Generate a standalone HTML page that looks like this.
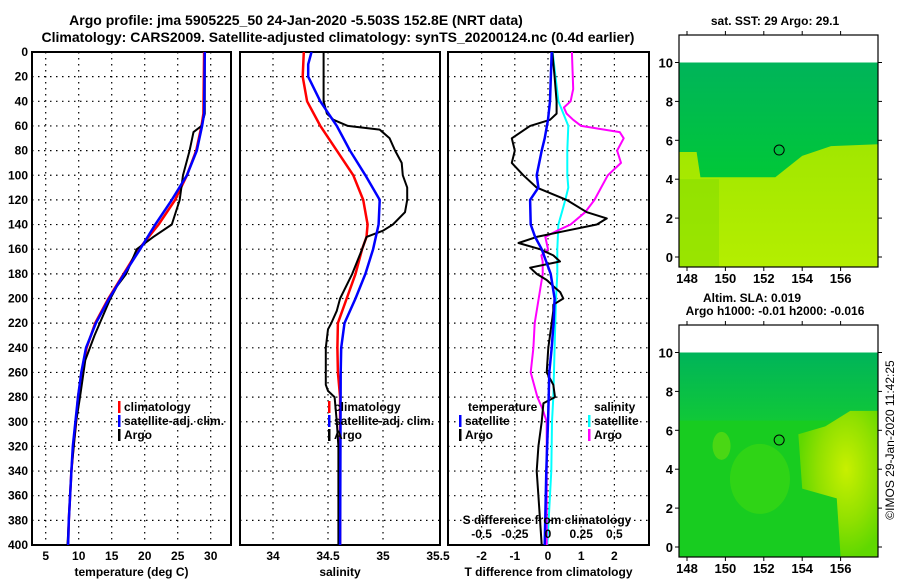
<!DOCTYPE html>
<html><head><meta charset="utf-8"><style>
html,body{margin:0;padding:0;background:#fff;}
svg{display:block;font-family:"Liberation Sans",sans-serif;font-weight:bold;}
</style></head><body>
<svg id="chart" width="900" height="580" viewBox="0 0 900 580">
<defs>
<clipPath id="c1"><rect x="32" y="52" width="199" height="493"/></clipPath>
<clipPath id="c2"><rect x="240" y="52" width="200" height="493"/></clipPath>
<clipPath id="c3"><rect x="448" y="52" width="201" height="493"/></clipPath>
<linearGradient id="g1top" x1="0" y1="0" x2="0" y2="1"><stop offset="0" stop-color="#00b45a"/><stop offset="1" stop-color="#00c838"/></linearGradient>
<linearGradient id="g1bot" x1="0" y1="0" x2="0" y2="1"><stop offset="0" stop-color="#50d410"/><stop offset="0.35" stop-color="#a0e600"/><stop offset="1" stop-color="#b4ee00"/></linearGradient>
<linearGradient id="g2top" x1="0" y1="0" x2="0" y2="1"><stop offset="0" stop-color="#00b45a"/><stop offset="1" stop-color="#10c838"/></linearGradient>
<radialGradient id="g2blob" cx="0.6" cy="0.4" r="0.6"><stop offset="0" stop-color="#c8f000"/><stop offset="0.6" stop-color="#90e000"/><stop offset="1" stop-color="#60d800"/></radialGradient>
</defs>
<text x="296" y="25" font-size="14" text-anchor="middle">Argo profile: jma 5905225_50 24-Jan-2020 -5.503S 152.8E (NRT data)</text>
<text x="338" y="42" font-size="14" text-anchor="middle">Climatology: CARS2009. Satellite-adjusted climatology: synTS_20200124.nc (0.4d earlier)</text>
<g id="p1"></g>
<g id="p2"></g>
<g id="p3"></g>
<g id="m1"></g>
<g id="m2"></g>
<text transform="translate(894,440) rotate(-90)" font-size="12" font-weight="normal" text-anchor="middle">©IMOS 29-Jan-2020 11:42:25</text>
</svg>
<script>
// ---- data ----
const depthTicks=[0,20,40,60,80,100,120,140,160,180,200,220,240,260,280,300,320,340,360,380,400];
const tempTicks=[5,10,15,20,25,30];
const salTicks=[34,34.5,35,35.5];
const dTTicks=[-2,-1,0,1,2];
const dSTicks=[-0.5,-0.25,0,0.25,0.5];
const dSTickLabels=["-0.5","-0.25","0","0.25","0.5"];

const tClimDepth=[0,50,60,80,100,120,140,160,180,200,220,240,260,280,300,320,340,360,380,400];
const tClim=[29.0,28.9,28.6,27.8,26.4,24.6,22.1,19.1,16.8,14.5,12.5,11.2,10.5,9.9,9.6,9.2,8.9,8.7,8.5,8.4];
const tSat=[29.1,29.0,28.7,27.9,26.4,24.1,21.6,19.3,16.9,14.6,12.6,11.1,10.4,9.9,9.5,9.1,8.9,8.7,8.5,8.4];
const tArgoDepth=[0,50,60,65,80,100,120,140,150,160,180,190,200,220,230,250,280,300,340,400];
const tArgo=[29.1,29.1,28.6,27.4,26.8,25.8,25.3,24.1,21.3,18.8,17.2,15.8,14.8,13.2,12.4,11.0,10.2,9.6,8.9,8.3];

const sClimDepth=[0,20,40,60,80,100,120,140,150,160,180,200,220,240,260,280,400];
const sClim=[34.28,34.27,34.31,34.43,34.58,34.73,34.82,34.86,34.85,34.81,34.75,34.67,34.59,34.585,34.59,34.61,34.61];
const sSatDepth=[0,10,20,40,60,80,100,120,140,160,180,200,220,240,260,400];
const sSat=[34.35,34.32,34.32,34.43,34.58,34.70,34.84,34.97,34.96,34.91,34.84,34.75,34.65,34.62,34.615,34.61];
const sArgoDepth=[0,40,50,55,60,63,70,80,90,100,110,120,130,140,145,150,160,180,200,210,220,225,240,270,275,280,300,320,400];
const sArgo=[34.46,34.46,34.49,34.55,34.68,34.97,35.06,35.11,35.17,35.18,35.22,35.22,35.20,35.09,35.0,34.85,34.81,34.72,34.61,34.58,34.53,34.50,34.48,34.48,34.50,34.56,34.58,34.595,34.595];

const dTSatDepth=[0,40,55,70,80,100,110,120,140,150,160,180,200,220,240,260,280,300,340,400];
const dTSat=[0.11,0.06,0.0,-0.1,-0.19,-0.34,-0.29,-0.54,-0.52,-0.39,-0.19,0.08,0.2,0.17,0.11,0.04,0.02,0.0,-0.05,-0.1];
const dTArgoDepth=[0,20,40,50,55,60,70,80,90,100,110,120,130,135,140,145,150,155,160,165,170,175,180,185,190,195,200,205,210,220,240,260,270,280,285,300,320,340,360,400];
const dTArgo=[0.13,0.2,0.26,0.26,0.06,-0.54,-1.09,-1.0,-1.09,-0.74,-0.34,0.56,1.17,1.77,1.47,0.56,-0.34,-0.89,-0.24,0.16,0.36,-0.54,-0.34,-0.04,0.16,0.37,0.46,0.16,0.16,0.11,0.01,-0.04,0.16,0.21,-0.14,-0.19,-0.29,-0.34,-0.29,-0.19];
const dSSatDepth=[0,40,60,80,100,110,120,130,140,160,180,200,240,280,300,340,400];
const dSSat=[0.035,0.078,0.153,0.145,0.145,0.153,0.13,0.105,0.078,0.07,0.07,0.06,0.05,0.04,0.03,0.025,-0.005];
const dSArgoDepth=[0,30,40,45,50,55,60,65,70,80,90,100,110,120,130,140,145,150,160,165,170,180,200,220,240,260,280,290,300,400];
const dSArgo=[0.18,0.19,0.17,0.12,0.14,0.19,0.25,0.54,0.57,0.52,0.55,0.45,0.40,0.35,0.28,0.17,0.07,-0.02,0.0,-0.05,-0.04,-0.04,-0.07,-0.1,-0.11,-0.13,-0.08,-0.04,-0.01,-0.01];

const latTicks=[0,2,4,6,8,10];
const lonTicks=[148,150,152,154,156];
const argoLon=152.8, argoLat=5.5;

// ---- scales ----
const yD=d=>52+d*1.2325;
const xT=t=>45.7+(t-5)*6.6;
const xS=s=>273+(s-34)*110;
const xDT=v=>548+v*33.2;
const xDS=v=>548+v*132.8;
const NS='http://www.w3.org/2000/svg';
function mk(parent,tag,attrs,txt){const e=document.createElementNS(NS,tag);for(const k in attrs)e.setAttribute(k,attrs[k]);if(txt!==undefined)e.textContent=txt;parent.appendChild(e);return e;}

function panel(g,x0,x1,xticks,xfn,xlabels,clip,title){
  for(const d of depthTicks){
    const ln=mk(g,'line',{x1:x0,x2:x1,y1:yD(d),y2:yD(d),stroke:'#000','stroke-width':1.2,'stroke-dasharray':'1.5 4.5'});
    
    
  }
  xticks.forEach((t,i)=>{
    const x=xfn(t);
    if(x>x0+2&&x<x1-2){const ln=mk(g,'line',{x1:x,x2:x,y1:52,y2:545,stroke:'#000','stroke-width':1.2,'stroke-dasharray':'1.5 4.5'});
    
    }
    if(xlabels){const tx=mk(g,'text',{x:x,y:560,'font-size':12,'text-anchor':'middle'},xlabels[i]);
    
    }
  });
  const r=mk(g,'rect',{x:x0,y:52,width:x1-x0,height:493,fill:'none',stroke:'#000','stroke-width':2});
  
  
  const tt=mk(g,'text',{x:(x0+x1)/2,y:576,'font-size':12,'text-anchor':'middle'},title);
  
  
}
function series(g,ds,vs,xfn,color,w,name,clip){
  const pts=ds.map((d,i)=>xfn(vs[i]).toFixed(1)+','+yD(d).toFixed(1)).join(' ');
  const p=mk(g,'polyline',{points:pts,fill:'none',stroke:color,'stroke-width':w,'clip-path':'url(#'+clip+')','stroke-linejoin':'round'});
  
  
}
function legendItem(g,x,y,color,label,name){
  const m=mk(g,'rect',{x:x,y:y-10,width:2.5,height:12,fill:color});
  
  
  const t=mk(g,'text',{x:x+6,y:y,'font-size':12},label);
  
  
}

// panel 1
const p1=document.getElementById('p1');
panel(p1,32,231,tempTicks,xT,tempTicks.map(String),'c1','temperature (deg C)');
for(const d of depthTicks){const t=mk(p1,'text',{x:28,y:yD(d)+4,'font-size':12,'text-anchor':'end'},String(d));

}
series(p1,tClimDepth,tClim,xT,'#f00',2.5,'temp-climatology-line','c1');
series(p1,tArgoDepth,tArgo,xT,'#000',2,'temp-argo-line','c1');
series(p1,tClimDepth,tSat,xT,'#00f',2.5,'temp-satellite-line','c1');
legendItem(p1,118,111+300,'#f00','climatology','legend-climatology');
legendItem(p1,118,425,'#00f','satellite-adj. clim.','legend-satellite-adj');
legendItem(p1,118,439,'#000','Argo','legend-argo');

// panel 2
const p2=document.getElementById('p2');
panel(p2,240,440,salTicks,xS,["34","34.5","35","35.5"],'c2','salinity');
series(p2,sClimDepth,sClim,xS,'#f00',2.5,'sal-climatology-line','c2');
series(p2,sArgoDepth,sArgo,xS,'#000',2,'sal-argo-line','c2');
series(p2,sSatDepth,sSat,xS,'#00f',2.5,'sal-satellite-line','c2');
legendItem(p2,328,411,'#f00','climatology','legend-climatology-2');
legendItem(p2,328,425,'#00f','satellite-adj. clim.','legend-satellite-adj-2');
legendItem(p2,328,439,'#000','Argo','legend-argo-2');

// panel 3
const p3=document.getElementById('p3');
panel(p3,448,649,dTTicks,xDT,dTTicks.map(String),'c3','T difference from climatology');
series(p3,dSSatDepth,dSSat,xDS,'#00ffff',2,'sal-diff-satellite-line','c3');
series(p3,dSArgoDepth,dSArgo,xDS,'#ff00ff',2,'sal-diff-argo-line','c3');
series(p3,dTArgoDepth,dTArgo,xDT,'#000',2,'temp-diff-argo-line','c3');
series(p3,dTSatDepth,dTSat,xDT,'#00f',2.5,'temp-diff-satellite-line','c3');
dSTicks.forEach((v,i)=>{const t=mk(p3,'text',{x:xDS(v),y:538,'font-size':12,'text-anchor':'middle'},dSTickLabels[i]);

});
{const t=mk(p3,'text',{x:547,y:524,'font-size':12,'text-anchor':'middle'},'S difference from climatology');

}
{const t=mk(p3,'text',{x:468,y:411,'font-size':12},'temperature');


const t2=mk(p3,'text',{x:594,y:411,'font-size':12},'salinity');

}
legendItem(p3,459,425,'#00f','satellite','legend-temp-satellite');
legendItem(p3,459,439,'#000','Argo','legend-temp-argo');
legendItem(p3,588,425,'#00ffff','satellite','legend-sal-satellite');
legendItem(p3,588,439,'#ff00ff','Argo','legend-sal-argo');

// maps
function mapFrame(g,top,kind){
  const base=top+27.5; // y of lat 10
  const lx=lon=>687+(lon-148)*19.2;
  const ly=lat=>base+(10-lat)*19.45;
  const mx0=679,mx1=878,bot=top+232;
  if(kind===1){
    const a=mk(g,'rect',{x:mx0,y:ly(10),width:mx1-mx0,height:bot-ly(10),fill:'url(#g1bot)'});
    
    const pts=[[mx0,ly(10)],[mx1,ly(10)],[mx1,ly(5.8)],[lx(155.5),ly(5.7)],[lx(154),ly(5.2)],[lx(152.6),ly(4.1)],[lx(148.7),ly(4.1)],[lx(148.5),ly(5.4)],[mx0,ly(5.4)]];
    const b=mk(g,'polygon',{points:pts.map(p=>p.join(',')).join(' '),fill:'url(#g1top)'});
    
    const c=mk(g,'rect',{x:mx0,y:ly(4),width:40,height:bot-ly(4),fill:'#80dc00',opacity:0.5});
    
  } else {
    const a=mk(g,'rect',{x:mx0,y:ly(10),width:mx1-mx0,height:bot-ly(10),fill:'#18cc20'});
    
    const b=mk(g,'rect',{x:mx0,y:ly(10),width:mx1-mx0,height:ly(6.5)-ly(10),fill:'url(#g2top)'});
    
    const pts=[[lx(155.2),ly(6.2)],[lx(156.5),ly(7)],[mx1,ly(7)],[mx1,bot],[lx(156),bot],[lx(155.8),ly(2.5)],[lx(154),ly(3)],[lx(153.8),ly(5.8)]];
    const c=mk(g,'polygon',{points:pts.map(p=>p.join(',')).join(' '),fill:'url(#g2blob)'});
    
    const d=mk(g,'ellipse',{cx:lx(151.8),cy:ly(3.5),rx:30,ry:35,fill:'#40d810',opacity:0.6});
    
    const e=mk(g,'ellipse',{cx:lx(149.8),cy:ly(5.2),rx:9,ry:14,fill:'#60dc10',opacity:0.7});
    
  }
  const w=mk(g,'rect',{x:mx0,y:top,width:mx1-mx0,height:base-top,fill:'#fff'});
  
  const circ=mk(g,'circle',{cx:lx(argoLon),cy:ly(argoLat),r:5,fill:'none',stroke:'#000','stroke-width':1});
  
  const fr=mk(g,'rect',{x:mx0,y:top,width:mx1-mx0,height:bot-top,fill:'none',stroke:'#000','stroke-width':1.2});
  
  for(const la of latTicks){
    const t=mk(g,'text',{x:673,y:ly(la)+5,'font-size':13,'text-anchor':'end'},String(la));
    
    mk(g,'line',{x1:mx1,x2:mx1+4,y1:ly(la),y2:ly(la),stroke:'#000'});
    mk(g,'line',{x1:mx0-4,x2:mx0,y1:ly(la),y2:ly(la),stroke:'#000'});
  }
  for(const lo of lonTicks){
    const t=mk(g,'text',{x:lx(lo),y:bot+16,'font-size':13,'text-anchor':'middle'},String(lo));
    
    mk(g,'line',{x1:lx(lo),x2:lx(lo),y1:top-4,y2:top,stroke:'#000'});
    mk(g,'line',{x1:lx(lo),x2:lx(lo),y1:bot,y2:bot+4,stroke:'#000'});
  }
}
const m1=document.getElementById('m1');
mapFrame(m1,35,1);
{const t=mk(m1,'text',{x:775,y:25,'font-size':12,'text-anchor':'middle'},'sat. SST: 29 Argo: 29.1');
}
const m2=document.getElementById('m2');
mapFrame(m2,325,2);
{const t=mk(m2,'text',{x:752,y:302,'font-size':12,'text-anchor':'middle'},'Altim. SLA: 0.019');

const t2=mk(m2,'text',{x:775,y:315,'font-size':12,'text-anchor':'middle'},'Argo h1000: -0.01 h2000: -0.016');
}
</script>
</body></html>
